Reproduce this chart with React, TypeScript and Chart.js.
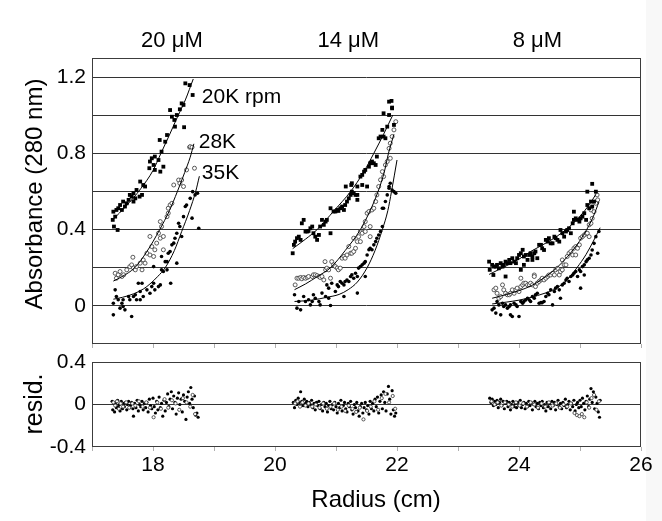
import React, { useEffect, useRef } from 'react';
import { Chart, registerables } from 'chart.js';

Chart.register(...registerables);

const FONT = "'Liberation Sans', Arial, Helvetica, sans-serif";

// ---------- axes / labels ----------
const radiusTicks = [17, 18, 19, 20, 21, 22, 23, 24, 25, 26];
const radiusTickLabels = ['', '18', '', '20', '', '22', '', '24', '', '26'];
const absTicks = [0, 0.2, 0.4, 0.6, 0.8, 1.0, 1.2];
const absTickLabels = ['0', '', '0.4', '', '0.8', '', '1.2'];
const residTicks = [-0.4, 0, 0.4];
const residTickLabels = ['-0.4', '0', '0.4'];

const concLabels = ['20 \u03BCM', '14 \u03BCM', '8 \u03BCM'];
const concLabelRadius = [18.31, 21.2, 24.3];
const speedLabels = ['20K rpm', '28K', '35K'];
const speedLabelRadius = [18.8, 18.75, 18.8];
const speedLabelAbs = [1.095, 0.86, 0.697];

// ---------- 20 uM ----------
const g1Rpm20: number[][] = [[17.34,0.451],[17.35,0.494],[17.36,0.416],[17.38,0.468],[17.40,0.503],[17.42,0.398],[17.43,0.512],[17.46,0.529],[17.49,0.503],[17.51,0.547],[17.54,0.521],[17.57,0.538],[17.60,0.556],[17.62,0.582],[17.65,0.573],[17.68,0.591],[17.68,0.547],[17.71,0.564],[17.73,0.608],[17.78,0.573],[17.79,0.652],[17.82,0.582],[17.84,0.634],[17.87,0.626],[17.94,0.722],[17.95,0.757],[17.98,0.774],[18.01,0.739],[18.03,0.783],[18.03,0.713],[18.09,0.765],[18.11,0.870],[18.12,0.704],[18.14,0.809],[18.17,0.730],[18.20,0.861],[18.23,0.896],[18.28,1.027],[18.31,0.992],[18.35,0.975],[18.36,0.940],[18.39,1.001],[18.44,1.031],[18.47,1.062],[18.50,1.054],[18.51,0.937],[18.53,1.167],[18.60,1.158],[18.65,1.106]];
const g1Rpm28: number[][] = [[17.38,0.171],[17.40,0.145],[17.43,0.163],[17.46,0.180],[17.49,0.154],[17.52,0.163],[17.57,0.189],[17.62,0.206],[17.65,0.215],[17.67,0.255],[17.68,0.198],[17.71,0.189],[17.73,0.206],[17.79,0.224],[17.82,0.189],[17.84,0.241],[17.87,0.224],[17.90,0.276],[17.95,0.267],[17.95,0.364],[17.98,0.311],[18.01,0.259],[18.03,0.294],[18.06,0.329],[18.09,0.381],[18.12,0.355],[18.12,0.442],[18.14,0.416],[18.17,0.364],[18.17,0.294],[18.23,0.468],[18.25,0.486],[18.25,0.512],[18.28,0.529],[18.31,0.538],[18.34,0.634],[18.42,0.660],[18.44,0.643],[18.47,0.660],[18.50,0.626],[18.55,0.713],[18.60,0.832],[18.61,0.835],[18.64,0.832],[18.68,0.722]];
const g1Rpm35: number[][] = [[17.35,0.014],[17.35,-0.047],[17.38,0.084],[17.40,0.049],[17.43,0.032],[17.46,-0.012],[17.49,0.014],[17.51,-0.003],[17.51,0.032],[17.54,-0.021],[17.60,0.049],[17.62,0.032],[17.65,-0.056],[17.68,0.049],[17.71,0.058],[17.73,0.032],[17.76,0.119],[17.79,0.032],[17.79,0.075],[17.82,0.119],[17.84,0.049],[17.90,0.084],[17.95,0.066],[17.98,0.101],[18.01,0.119],[18.01,0.206],[18.03,0.084],[18.09,0.101],[18.12,0.110],[18.14,0.189],[18.14,0.259],[18.17,0.180],[18.20,0.232],[18.23,0.189],[18.23,0.232],[18.25,0.276],[18.28,0.285],[18.29,0.119],[18.31,0.320],[18.34,0.329],[18.36,0.355],[18.39,0.381],[18.39,0.224],[18.42,0.433],[18.44,0.416],[18.47,0.364],[18.50,0.468],[18.53,0.521],[18.55,0.529],[18.61,0.564],[18.64,0.460],[18.65,0.599],[18.69,0.582],[18.73,0.591],[18.75,0.407]];
const g1Fit20: number[][] = [[17.35,0.455],[17.55,0.52],[17.8,0.615],[18.0,0.71],[18.13,0.8],[18.26,0.89],[18.4,0.99],[18.53,1.08],[18.66,1.19]];
const g1Fit28: number[][] = [[17.35,0.13],[17.5,0.155],[17.7,0.2],[17.9,0.285],[18.11,0.4],[18.27,0.5],[18.4,0.6],[18.52,0.7],[18.61,0.78],[18.67,0.85]];
const g1Fit35: number[][] = [[17.35,0.035],[17.5,0.045],[17.68,0.063],[17.85,0.09],[17.95,0.115],[18.08,0.155],[18.2,0.2],[18.35,0.29],[18.47,0.39],[18.6,0.5],[18.7,0.6],[18.76,0.68]];

// ---------- 14 uM ----------
const g2Rpm20: number[][] = [[20.29,0.276],[20.31,0.320],[20.33,0.337],[20.36,0.355],[20.39,0.363],[20.42,0.346],[20.44,0.433],[20.47,0.451],[20.50,0.390],[20.53,0.390],[20.55,0.393],[20.58,0.407],[20.61,0.416],[20.63,0.381],[20.66,0.363],[20.69,0.346],[20.72,0.372],[20.74,0.416],[20.77,0.451],[20.80,0.425],[20.83,0.442],[20.85,0.451],[20.91,0.512],[20.91,0.381],[20.96,0.495],[20.99,0.495],[21.02,0.503],[21.04,0.498],[21.07,0.512],[21.10,0.521],[21.13,0.503],[21.15,0.529],[21.16,0.626],[21.18,0.547],[21.21,0.564],[21.24,0.582],[21.25,0.634],[21.26,0.599],[21.26,0.643],[21.29,0.591],[21.32,0.582],[21.35,0.582],[21.35,0.626],[21.35,0.556],[21.40,0.678],[21.43,0.687],[21.43,0.634],[21.46,0.704],[21.48,0.713],[21.51,0.626],[21.54,0.730],[21.56,0.748],[21.59,0.757],[21.62,0.748],[21.65,0.739],[21.67,0.783],[21.70,0.879],[21.73,0.888],[21.76,0.923],[21.78,0.888],[21.78,1.010],[21.81,0.879],[21.84,0.940],[21.87,1.001],[21.87,1.071],[21.91,1.075],[21.92,1.036],[21.92,1.040],[21.95,0.949]];
const g2Rpm28: number[][] = [[20.33,0.110],[20.36,0.145],[20.39,0.145],[20.42,0.149],[20.44,0.142],[20.47,0.149],[20.50,0.145],[20.53,0.149],[20.55,0.154],[20.61,0.154],[20.63,0.163],[20.66,0.163],[20.69,0.159],[20.72,0.154],[20.74,0.149],[20.77,0.154],[20.80,0.136],[20.82,0.232],[20.83,0.189],[20.85,0.198],[20.88,0.189],[20.91,0.145],[20.93,0.232],[20.96,0.215],[20.99,0.206],[21.02,0.198],[21.04,0.189],[21.07,0.198],[21.10,0.250],[21.13,0.259],[21.15,0.250],[21.18,0.267],[21.21,0.311],[21.24,0.276],[21.26,0.276],[21.29,0.285],[21.29,0.355],[21.32,0.302],[21.35,0.337],[21.37,0.363],[21.40,0.390],[21.40,0.337],[21.43,0.381],[21.46,0.416],[21.48,0.442],[21.48,0.390],[21.51,0.486],[21.54,0.495],[21.56,0.416],[21.56,0.363],[21.59,0.503],[21.62,0.512],[21.65,0.547],[21.67,0.582],[21.70,0.626],[21.73,0.661],[21.76,0.704],[21.78,0.678],[21.81,0.739],[21.84,0.757],[21.87,0.826],[21.89,0.853],[21.89,0.774],[21.92,0.888],[21.95,0.923],[21.98,0.966]];
const g2Rpm35: number[][] = [[20.32,0.058],[20.36,-0.012],[20.39,0.023],[20.42,-0.021],[20.47,0.049],[20.50,0.023],[20.55,0.032],[20.58,0.005],[20.61,0.023],[20.63,0.058],[20.66,0.040],[20.72,0.023],[20.74,0.005],[20.77,0.067],[20.83,0.049],[20.85,0.110],[20.88,0.040],[20.88,0.093],[20.91,0.002],[20.93,0.119],[20.99,0.075],[21.02,0.110],[21.04,0.101],[21.07,0.128],[21.10,0.119],[21.13,0.110],[21.13,0.049],[21.15,0.128],[21.18,0.136],[21.21,0.128],[21.24,0.154],[21.26,0.163],[21.29,0.145],[21.32,0.171],[21.35,0.154],[21.35,0.067],[21.37,0.198],[21.40,0.206],[21.43,0.215],[21.46,0.224],[21.48,0.154],[21.48,0.232],[21.51,0.267],[21.54,0.294],[21.56,0.302],[21.59,0.294],[21.62,0.320],[21.65,0.337],[21.67,0.355],[21.70,0.372],[21.73,0.390],[21.76,0.416],[21.76,0.512],[21.78,0.512],[21.81,0.547],[21.84,0.582],[21.87,0.617],[21.87,0.626],[21.89,0.643],[21.92,0.608],[21.95,0.599],[21.98,0.591]];
const g2Fit20: number[][] = [[20.29,0.3],[20.5,0.35],[20.69,0.4],[20.97,0.5],[21.24,0.6],[21.45,0.7],[21.62,0.8],[21.78,0.9],[21.93,1.0]];
const g2Fit28: number[][] = [[20.32,0.085],[20.5,0.115],[20.7,0.155],[20.91,0.2],[21.15,0.29],[21.4,0.4],[21.56,0.5],[21.69,0.6],[21.79,0.7],[21.86,0.8],[21.95,0.9]];
const g2Fit35: number[][] = [[20.32,0.023],[20.6,0.03],[20.85,0.045],[21.05,0.06],[21.2,0.085],[21.35,0.125],[21.51,0.2],[21.64,0.29],[21.76,0.4],[21.85,0.5],[21.91,0.6],[22.0,0.765]];

// ---------- 8 uM ----------
const g3Rpm20: number[][] = [[23.51,0.232],[23.52,0.189],[23.56,0.215],[23.58,0.162],[23.59,0.206],[23.62,0.206],[23.64,0.215],[23.67,0.197],[23.70,0.224],[23.73,0.206],[23.75,0.215],[23.78,0.232],[23.78,0.154],[23.81,0.224],[23.84,0.241],[23.86,0.224],[23.89,0.250],[23.92,0.232],[23.95,0.224],[23.97,0.250],[24.00,0.267],[24.03,0.276],[24.03,0.189],[24.06,0.294],[24.08,0.259],[24.08,0.215],[24.11,0.267],[24.14,0.241],[24.17,0.267],[24.19,0.276],[24.22,0.259],[24.22,0.241],[24.25,0.276],[24.27,0.285],[24.30,0.250],[24.33,0.320],[24.36,0.320],[24.38,0.302],[24.41,0.293],[24.44,0.346],[24.47,0.337],[24.49,0.355],[24.52,0.328],[24.55,0.328],[24.58,0.363],[24.60,0.355],[24.63,0.346],[24.66,0.337],[24.68,0.398],[24.71,0.381],[24.74,0.363],[24.77,0.390],[24.79,0.398],[24.82,0.407],[24.85,0.381],[24.88,0.433],[24.90,0.451],[24.90,0.494],[24.93,0.459],[24.96,0.451],[24.99,0.442],[25.01,0.459],[25.04,0.468],[25.07,0.486],[25.10,0.451],[25.12,0.529],[25.12,0.599],[25.15,0.512],[25.18,0.547],[25.20,0.521],[25.20,0.640],[25.23,0.547],[25.26,0.599]];
const g3Rpm28: number[][] = [[23.59,0.084],[23.62,0.093],[23.64,0.066],[23.67,0.040],[23.70,0.049],[23.73,0.110],[23.75,0.084],[23.78,0.066],[23.81,0.058],[23.84,0.058],[23.86,0.066],[23.89,0.084],[23.92,0.066],[23.95,0.084],[23.97,0.093],[24.00,0.075],[24.03,0.101],[24.03,0.145],[24.06,0.110],[24.08,0.119],[24.11,0.119],[24.14,0.110],[24.17,0.110],[24.19,0.119],[24.22,0.110],[24.25,0.162],[24.25,0.154],[24.27,0.101],[24.30,0.119],[24.33,0.128],[24.36,0.136],[24.38,0.145],[24.41,0.136],[24.44,0.145],[24.47,0.154],[24.49,0.162],[24.52,0.162],[24.55,0.171],[24.58,0.162],[24.60,0.189],[24.63,0.197],[24.66,0.162],[24.68,0.180],[24.71,0.189],[24.71,0.241],[24.74,0.215],[24.77,0.215],[24.79,0.259],[24.82,0.276],[24.85,0.285],[24.88,0.267],[24.90,0.302],[24.93,0.311],[24.93,0.267],[24.96,0.302],[24.99,0.320],[25.01,0.355],[25.04,0.363],[25.07,0.372],[25.10,0.381],[25.12,0.381],[25.15,0.425],[25.15,0.363],[25.18,0.433],[25.18,0.503],[25.20,0.459],[25.23,0.494],[25.26,0.538],[25.28,0.582],[25.29,0.556]];
const g3Rpm35: number[][] = [[23.56,-0.021],[23.59,-0.012],[23.62,-0.038],[23.64,0.023],[23.67,0.005],[23.70,-0.047],[23.73,0.014],[23.75,-0.003],[23.78,0.005],[23.81,-0.012],[23.84,-0.003],[23.86,0.005],[23.86,-0.047],[23.89,-0.056],[23.92,0.014],[23.95,0.005],[23.97,-0.003],[24.00,-0.056],[24.03,0.023],[24.06,0.014],[24.08,0.023],[24.11,0.031],[24.14,0.040],[24.17,0.031],[24.19,0.023],[24.22,0.049],[24.25,0.040],[24.27,0.058],[24.30,0.066],[24.33,0.014],[24.36,0.017],[24.38,0.017],[24.41,0.023],[24.44,0.049],[24.47,0.066],[24.49,0.058],[24.52,0.084],[24.55,0.005],[24.58,0.075],[24.60,0.093],[24.63,0.101],[24.66,0.084],[24.68,0.040],[24.71,0.110],[24.74,0.119],[24.77,0.136],[24.79,0.145],[24.82,0.128],[24.85,0.154],[24.88,0.162],[24.90,0.171],[24.93,0.180],[24.96,0.154],[24.99,0.189],[25.01,0.180],[25.01,0.093],[25.04,0.206],[25.07,0.162],[25.07,0.215],[25.10,0.232],[25.12,0.241],[25.15,0.250],[25.18,0.267],[25.20,0.293],[25.23,0.328],[25.26,0.363],[25.29,0.276],[25.31,0.390]];
const g3Fit20: number[][] = [[23.51,0.165],[23.73,0.2],[24.0,0.245],[24.19,0.285],[24.5,0.34],[24.77,0.4],[25.0,0.47],[25.15,0.53],[25.26,0.585]];
const g3Fit28: number[][] = [[23.56,0.04],[23.8,0.06],[24.0,0.08],[24.2,0.105],[24.4,0.145],[24.62,0.2],[24.8,0.26],[24.95,0.32],[25.11,0.4],[25.22,0.47],[25.31,0.545]];
const g3Fit35: number[][] = [[23.56,0.01],[23.8,0.02],[24.0,0.03],[24.2,0.045],[24.41,0.065],[24.6,0.09],[24.8,0.14],[24.95,0.2],[25.1,0.27],[25.22,0.34],[25.33,0.41]];

// ---------- residuals ----------
const residFilled: number[][] = [
  [17.33,0.03],[17.34,-0.05],[17.36,0.01],[17.37,-0.07],[17.39,0.02],[17.40,-0.03],[17.42,0.04],[17.43,-0.02],[17.45,0.00],[17.46,-0.06],[17.48,0.03],[17.50,-0.04],[17.52,0.01],[17.53,-0.02],[17.55,0.02],[17.57,-0.05],[17.58,0.00],[17.60,0.03],[17.62,-0.03],[17.63,-0.01],[17.65,0.02],[17.67,-0.04],[17.68,-0.11],[17.70,0.01],[17.72,-0.03],[17.74,0.04],[17.76,-0.06],[17.78,0.00],[17.80,-0.02],[17.82,0.03],[17.84,-0.05],[17.86,0.01],[17.88,-0.03],[17.90,0.02],[17.92,-0.07],[17.94,0.05],[17.96,-0.01],[17.98,-0.04],[18.00,0.06],[18.02,-0.02],[18.04,-0.08],[18.06,0.03],[18.08,-0.05],[18.10,0.07],[18.12,-0.03],[18.14,0.01],[18.16,-0.11],[18.18,0.04],[18.20,-0.06],[18.22,0.02],[18.24,0.10],[18.26,-0.02],[18.28,0.05],[18.30,0.12],[18.32,-0.04],[18.34,0.08],[18.36,0.02],[18.38,-0.09],[18.40,0.06],[18.42,0.11],[18.44,0.00],[18.46,0.05],[18.48,-0.07],[18.50,0.09],[18.52,0.03],[18.54,-0.14],[18.56,0.07],[18.58,0.12],[18.60,0.01],[18.62,0.16],[18.64,0.05],[18.66,-0.03],[18.68,0.08],[18.70,-0.10],[18.72,-0.08],[18.74,-0.12],
  [20.30,0.02],[20.32,-0.03],[20.34,0.04],[20.36,0.00],[20.38,0.06],[20.40,0.02],[20.42,0.12],[20.44,0.03],[20.46,-0.01],[20.48,0.05],[20.50,0.01],[20.52,0.03],[20.54,-0.02],[20.56,0.02],[20.58,0.00],[20.60,0.04],[20.62,-0.03],[20.64,0.01],[20.66,-0.05],[20.68,0.02],[20.70,-0.01],[20.72,0.03],[20.74,-0.04],[20.76,0.00],[20.78,-0.06],[20.80,0.02],[20.82,-0.02],[20.84,0.01],[20.86,-0.07],[20.88,-0.01],[20.90,0.03],[20.92,-0.04],[20.94,0.00],[20.96,-0.05],[20.98,0.02],[21.00,-0.02],[21.02,-0.08],[21.04,0.01],[21.06,-0.03],[21.08,0.04],[21.10,-0.06],[21.12,-0.01],[21.14,0.02],[21.16,-0.04],[21.18,-0.07],[21.20,0.01],[21.22,-0.02],[21.24,0.03],[21.26,-0.05],[21.28,-0.09],[21.30,0.00],[21.32,-0.03],[21.34,0.02],[21.36,-0.06],[21.38,-0.11],[21.40,-0.02],[21.42,0.01],[21.44,-0.08],[21.46,-0.03],[21.48,0.02],[21.50,-0.05],[21.52,-0.01],[21.54,-0.09],[21.56,0.03],[21.58,-0.04],[21.60,0.01],[21.62,-0.06],[21.64,0.05],[21.66,-0.02],[21.68,0.07],[21.70,-0.08],[21.72,0.03],[21.74,0.09],[21.76,-0.04],[21.78,0.12],[21.80,0.02],[21.82,-0.06],[21.84,0.10],[21.86,0.17],[21.88,0.05],[21.90,-0.09],[21.92,0.13],[21.94,-0.05],[21.96,-0.11],[21.98,-0.08],
  [23.52,0.06],[23.54,0.02],[23.56,0.05],[23.58,-0.01],[23.60,0.03],[23.62,0.00],[23.64,0.04],[23.66,-0.03],[23.68,0.02],[23.70,0.05],[23.72,-0.01],[23.74,0.03],[23.76,-0.04],[23.78,0.01],[23.80,0.03],[23.82,-0.02],[23.84,0.02],[23.86,-0.05],[23.88,0.00],[23.90,0.03],[23.92,-0.02],[23.94,0.01],[23.96,-0.03],[23.98,0.02],[24.00,-0.01],[24.02,0.04],[24.04,-0.03],[24.06,0.00],[24.08,0.02],[24.10,-0.04],[24.12,0.01],[24.14,-0.02],[24.16,0.03],[24.18,-0.01],[24.20,0.02],[24.22,-0.05],[24.24,0.00],[24.26,0.03],[24.28,-0.02],[24.30,0.01],[24.32,-0.04],[24.34,0.02],[24.36,-0.01],[24.38,0.03],[24.40,-0.03],[24.42,0.00],[24.44,-0.06],[24.46,0.02],[24.48,-0.02],[24.50,0.01],[24.52,-0.04],[24.54,0.03],[24.56,-0.01],[24.58,0.02],[24.60,-0.05],[24.62,0.00],[24.64,0.04],[24.66,-0.02],[24.68,0.01],[24.70,-0.04],[24.72,0.02],[24.74,-0.01],[24.76,0.05],[24.78,-0.03],[24.80,0.00],[24.82,0.03],[24.84,-0.05],[24.86,0.01],[24.88,-0.02],[24.90,0.04],[24.92,-0.06],[24.94,0.00],[24.96,0.02],[24.98,-0.03],[25.00,0.04],[25.02,-0.02],[25.04,0.06],[25.06,0.01],[25.08,-0.05],[25.10,0.03],[25.12,0.08],[25.14,-0.02],[25.16,0.05],[25.18,0.15],[25.20,0.02],[25.22,0.12],[25.24,-0.04],[25.26,0.07],[25.28,0.01],[25.30,-0.07],[25.32,-0.12],[25.33,0.04]
];
const residOpen: number[][] = [
  [17.35,0.02],[17.38,-0.01],[17.41,0.03],[17.44,-0.04],[17.47,0.01],[17.51,-0.02],[17.56,0.02],[17.61,-0.03],[17.66,0.01],[17.71,-0.01],[17.77,0.03],[17.83,-0.02],[17.89,0.02],[17.95,-0.03],[18.01,-0.12],[18.07,0.02],[18.13,-0.04],[18.19,0.05],[18.25,-0.03],[18.31,0.04],[18.37,0.01],[18.43,-0.05],[18.49,0.06],[18.55,0.02],[18.61,-0.02],[18.65,0.09],[18.69,-0.09],
  [20.33,0.01],[20.37,0.03],[20.41,-0.02],[20.45,0.02],[20.50,-0.01],[20.55,0.01],[20.61,-0.02],[20.67,0.00],[20.73,-0.03],[20.79,0.01],[20.85,-0.04],[20.91,-0.02],[20.97,0.01],[21.03,-0.05],[21.09,-0.02],[21.15,-0.06],[21.21,-0.01],[21.27,-0.04],[21.33,-0.07],[21.39,-0.03],[21.45,-0.14],[21.51,-0.06],[21.57,-0.02],[21.63,0.03],[21.69,-0.05],[21.75,0.06],[21.81,0.10],[21.87,0.02],[21.93,0.08],[21.97,-0.04],
  [23.55,0.03],[23.60,0.00],[23.65,0.02],[23.71,-0.01],[23.77,0.02],[23.83,0.00],[23.89,-0.02],[23.95,0.02],[24.01,-0.01],[24.07,0.01],[24.13,-0.02],[24.19,0.02],[24.25,0.00],[24.31,-0.03],[24.37,0.01],[24.43,-0.02],[24.49,0.02],[24.55,-0.01],[24.61,0.01],[24.67,-0.03],[24.73,0.00],[24.79,-0.02],[24.85,0.01],[24.91,-0.08],[24.95,-0.10],[24.99,-0.11],[25.03,-0.09],[25.07,-0.12],[25.11,0.02],[25.15,-0.03],[25.19,0.06],[25.23,0.09],[25.27,-0.05],[25.31,0.03]
];

// ---------- helpers ----------
const toXY = (arr: number[][]) => arr.map(([x, y]) => ({ x, y }));
const squares = (d: number[][]) => ({ data: toXY(d), pointStyle: 'rect', pointRadius: 2.7, backgroundColor: '#000', borderColor: '#000', borderWidth: 0, showLine: false });
const openCircles = (d: number[][], r = 2) => ({ data: toXY(d), pointStyle: 'circle', pointRadius: r, backgroundColor: '#fff', borderColor: '#333', borderWidth: 0.8, showLine: false });
const dots = (d: number[][], r = 1.8) => ({ data: toXY(d), pointStyle: 'circle', pointRadius: r, backgroundColor: '#000', borderColor: '#000', borderWidth: 0, showLine: false });
const fitLine = (d: number[][]) => ({ data: toXY(d), showLine: true, borderColor: '#000', borderWidth: 1, pointRadius: 0, cubicInterpolationMode: 'monotone', fill: false });

const framePlugin = {
  id: 'frame',
  afterDraw(chart: any) {
    const { ctx, chartArea: a } = chart;
    ctx.save();
    ctx.strokeStyle = '#3c3c3c';
    ctx.lineWidth = 1;
    ctx.strokeRect(a.left + 0.5, a.top + 0.5, a.right - a.left - 1, a.bottom - a.top - 1);
    ctx.restore();
  },
};

const mainTextPlugin = {
  id: 'mainText',
  afterDraw(chart: any) {
    const { ctx, scales: { x, y } } = chart;
    ctx.save();
    ctx.fillStyle = '#000';
    ctx.textBaseline = 'middle';
    ctx.font = `22px ${FONT}`;
    ctx.textAlign = 'center';
    concLabels.forEach((t, i) => ctx.fillText(t, x.getPixelForValue(concLabelRadius[i]), 41));
    ctx.font = `21px ${FONT}`;
    ctx.textAlign = 'left';
    speedLabels.forEach((t, i) => ctx.fillText(t, x.getPixelForValue(speedLabelRadius[i]), y.getPixelForValue(speedLabelAbs[i])));
    ctx.translate(35, 194);
    ctx.rotate(-Math.PI / 2);
    ctx.textAlign = 'center';
    ctx.font = `24px ${FONT}`;
    ctx.fillText('Absorbance (280 nm)', 0, 0);
    ctx.restore();
  },
};

const residTextPlugin = {
  id: 'residText',
  afterDraw(chart: any) {
    const { ctx } = chart;
    ctx.save();
    ctx.fillStyle = '#000';
    ctx.textBaseline = 'middle';
    ctx.textAlign = 'center';
    ctx.font = `24px ${FONT}`;
    ctx.fillText('Radius (cm)', 376, 150);
    ctx.font = `25px ${FONT}`;
    ctx.translate(35, 54);
    ctx.rotate(-Math.PI / 2);
    ctx.fillText('resid.', 0, 0);
    ctx.restore();
  },
};

const xScale = (showLabels: boolean, height: number) => ({
  type: 'linear',
  min: 17,
  max: 26,
  afterBuildTicks: (s: any) => { s.ticks = radiusTicks.map((v) => ({ value: v })); },
  ticks: {
    display: showLabels,
    autoSkip: false,
    maxRotation: 0,
    padding: 2,
    color: '#000',
    font: { size: 21, family: FONT },
    callback: (_v: any, i: number) => radiusTickLabels[i],
  },
  grid: { drawOnChartArea: false, drawTicks: true, tickLength: 4, color: '#b0b0b0' },
  border: { display: false },
  afterFit: (s: any) => { s.height = height; s.paddingLeft = 0; s.paddingRight = 0; },
});

export default function App() {
  const mainRef = useRef<HTMLCanvasElement>(null);
  const residRef = useRef<HTMLCanvasElement>(null);

  useEffect(() => {
    Chart.defaults.font.family = FONT;
    Chart.defaults.color = '#000';

    const main = new Chart(mainRef.current as HTMLCanvasElement, {
      type: 'scatter',
      data: {
        datasets: [
          fitLine(g1Fit20), fitLine(g1Fit28), fitLine(g1Fit35),
          fitLine(g2Fit20), fitLine(g2Fit28), fitLine(g2Fit35),
          fitLine(g3Fit20), fitLine(g3Fit28), fitLine(g3Fit35),
          squares(g1Rpm20), squares(g2Rpm20), squares(g3Rpm20),
          openCircles(g1Rpm28), openCircles(g2Rpm28), openCircles(g3Rpm28),
          dots(g1Rpm35), dots(g2Rpm35), dots(g3Rpm35),
        ] as any,
      },
      options: {
        animation: false,
        responsive: false,
        devicePixelRatio: 1,
        events: [],
        layout: { padding: { top: 58, right: 21, bottom: 0, left: 0 } },
        plugins: { legend: { display: false }, tooltip: { enabled: false } },
        scales: {
          x: xScale(false, 6) as any,
          y: {
            type: 'linear',
            min: -0.2,
            max: 1.3,
            afterBuildTicks: (s: any) => { s.ticks = absTicks.map((v) => ({ value: v })); },
            ticks: { padding: 6, color: '#000', font: { size: 21, family: FONT }, callback: (_v: any, i: number) => absTickLabels[i] },
            grid: { color: '#333', drawTicks: false, lineWidth: 1 },
            border: { display: false },
            afterFit: (s: any) => { s.width = 92; s.paddingTop = 0; s.paddingBottom = 0; },
          },
        },
      } as any,
      plugins: [framePlugin, mainTextPlugin],
    });

    const resid = new Chart(residRef.current as HTMLCanvasElement, {
      type: 'scatter',
      data: {
        datasets: [
          openCircles(residOpen, 1.6),
          dots(residFilled, 1.6),
        ] as any,
      },
      options: {
        animation: false,
        responsive: false,
        devicePixelRatio: 1,
        events: [],
        layout: { padding: { top: 12, right: 21, bottom: 0, left: 0 } },
        plugins: { legend: { display: false }, tooltip: { enabled: false } },
        scales: {
          x: xScale(true, 74) as any,
          y: {
            type: 'linear',
            min: -0.4,
            max: 0.4,
            afterBuildTicks: (s: any) => { s.ticks = residTicks.map((v) => ({ value: v })); },
            ticks: { padding: 6, color: '#000', font: { size: 21, family: FONT }, callback: (_v: any, i: number) => residTickLabels[i] },
            grid: { color: (c: any) => (c.tick && c.tick.value === 0 ? '#333' : 'rgba(0,0,0,0)'), drawTicks: false, lineWidth: 1 },
            border: { display: false },
            afterFit: (s: any) => { s.width = 92; s.paddingTop = 0; s.paddingBottom = 0; },
          },
        },
      } as any,
      plugins: [framePlugin, residTextPlugin],
    });

    return () => {
      main.destroy();
      resid.destroy();
    };
  }, []);

  return (
    <div style={{ position: 'absolute', left: 0, top: 0, width: 662, height: 521, background: '#fff' }}>
      <div style={{ position: 'absolute', left: 646, top: 0, width: 16, height: 521, background: '#f8f8f8' }} />
      <canvas ref={mainRef} width={662} height={350} style={{ position: 'absolute', left: 0, top: 0, width: 662, height: 350 }} />
      <canvas ref={residRef} width={662} height={171} style={{ position: 'absolute', left: 0, top: 350, width: 662, height: 171 }} />
    </div>
  );
}
